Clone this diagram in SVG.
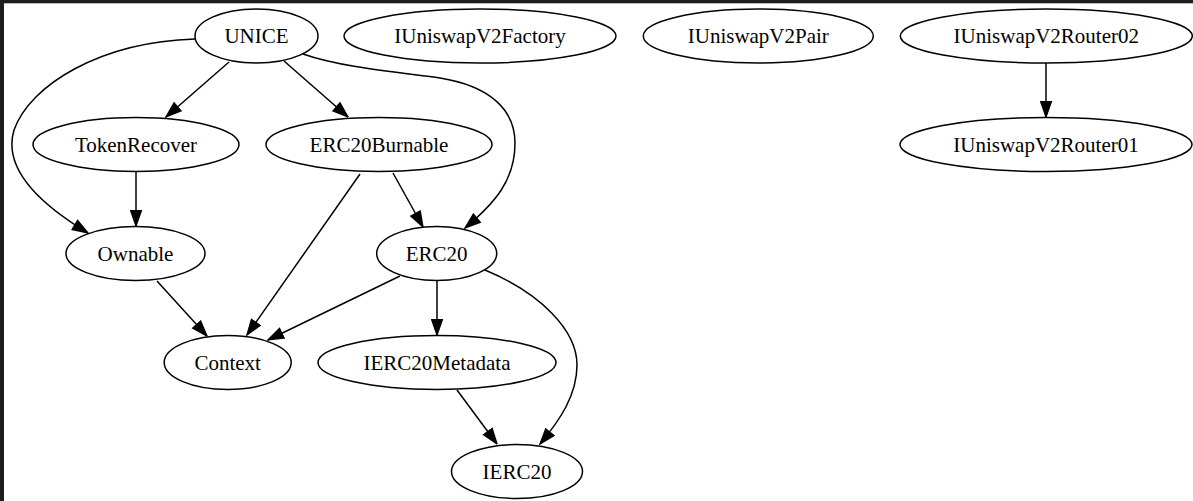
<svg xmlns="http://www.w3.org/2000/svg" width="1193" height="501" viewBox="0 0 1193 501">
<style>
.n ellipse{fill:#fff;stroke:#000;stroke-width:1.5}
.n text{font-family:"Liberation Serif","Times New Roman",serif;font-size:21px;text-anchor:middle;fill:#000}
.e path{fill:none;stroke:#000;stroke-width:1.5;marker-end:url(#ah)}
</style>
<defs>
<marker id="ah" markerUnits="userSpaceOnUse" markerWidth="17" markerHeight="13" viewBox="-1 -6.5 17 13" refX="15.3" refY="0" orient="auto">
<path d="M0,-5.25 L15,0 L0,5.25 z" fill="#000" stroke="#000" stroke-width="1.5"/>
</marker>
</defs>
<rect x="0" y="0" width="1193" height="501" fill="#fff"/>
<rect x="0" y="0" width="1193" height="3.3" fill="#1e1e1e"/>
<rect x="0" y="0" width="4" height="501" fill="#1e1e1e"/>
<g id="connectors" class="e">
<path d="M229,62 L166,117"/>
<path d="M284,61 L348,117"/>
<path d="M303,54 C340,67 395,72 440,78 C490,86 515,110 515,143 C515,180 495,203 465,228"/>
<path d="M195,39 C100,42 30,85 14,130 C5,160 25,195 88,233"/>
<path d="M136,172 L136,226"/>
<path d="M393,173 L423,227"/>
<path d="M360,174 L247,335"/>
<path d="M157,281 L207,336"/>
<path d="M400,276 L268,340"/>
<path d="M437,281 L437,335"/>
<path d="M485,270 C540,293 577,330 577,365 C577,395 560,420 540,444"/>
<path d="M457,390 L497,444"/>
<path d="M1046,63 L1046,117"/>
</g>
<g id="UNICE" class="n"><ellipse cx="256.5" cy="36" rx="61.5" ry="27"/><text x="256.5" y="43.3">UNICE</text></g>
<g id="IUniswapV2Factory" class="n"><ellipse cx="480" cy="36" rx="136" ry="27"/><text x="480" y="43.3">IUniswapV2Factory</text></g>
<g id="IUniswapV2Pair" class="n"><ellipse cx="758.3" cy="36" rx="115" ry="27"/><text x="758.3" y="43.3">IUniswapV2Pair</text></g>
<g id="IUniswapV2Router02" class="n"><ellipse cx="1046.3" cy="36" rx="146" ry="27"/><text x="1046.3" y="43.3">IUniswapV2Router02</text></g>
<g id="TokenRecover" class="n"><ellipse cx="136" cy="144.5" rx="103" ry="27"/><text x="136" y="151.8">TokenRecover</text></g>
<g id="ERC20Burnable" class="n"><ellipse cx="379" cy="144.5" rx="113" ry="27"/><text x="379" y="151.8">ERC20Burnable</text></g>
<g id="IUniswapV2Router01" class="n"><ellipse cx="1046" cy="144.5" rx="146" ry="27"/><text x="1046" y="151.8">IUniswapV2Router01</text></g>
<g id="Ownable" class="n"><ellipse cx="135.5" cy="253.5" rx="69.5" ry="27"/><text x="135.5" y="260.8">Ownable</text></g>
<g id="ERC20" class="n"><ellipse cx="436.7" cy="253.5" rx="60" ry="27"/><text x="436.7" y="260.8">ERC20</text></g>
<g id="Context" class="n"><ellipse cx="227.7" cy="362.5" rx="63.5" ry="27"/><text x="227.7" y="369.8">Context</text></g>
<g id="IERC20Metadata" class="n"><ellipse cx="437" cy="362.5" rx="119" ry="27"/><text x="437" y="369.8">IERC20Metadata</text></g>
<g id="IERC20" class="n"><ellipse cx="517" cy="471.5" rx="65.5" ry="27"/><text x="517" y="478.8">IERC20</text></g>
</svg>
